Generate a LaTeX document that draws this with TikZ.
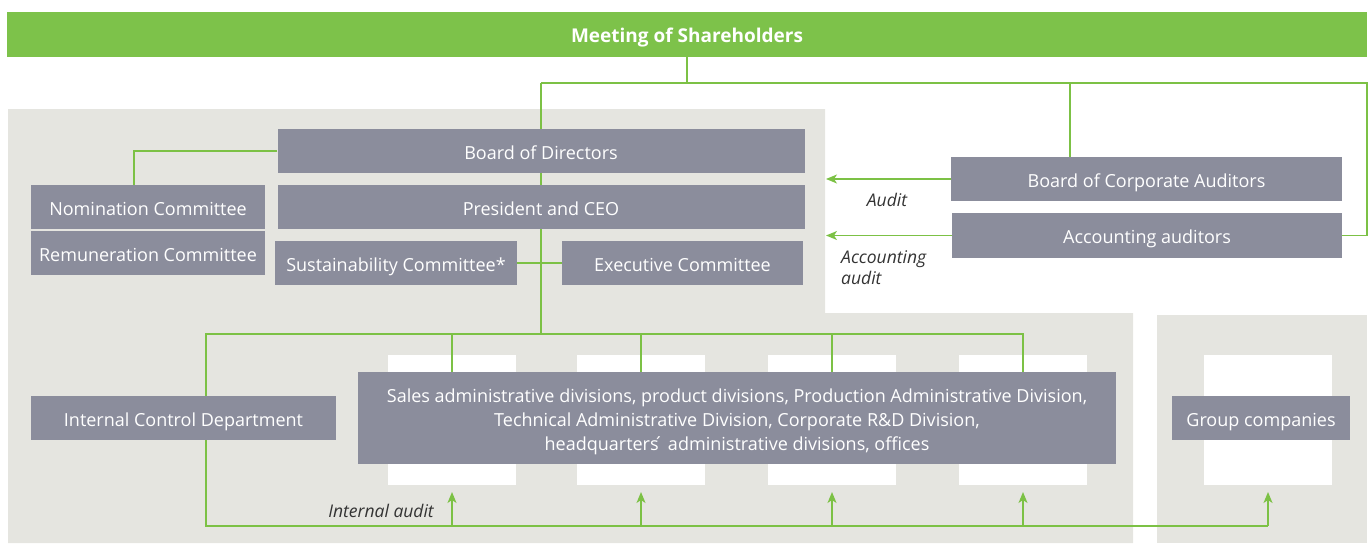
\documentclass[tikz,border=0pt]{standalone}
\usepackage{fontspec}
\setmainfont{Open Sans}
\usetikzlibrary{arrows.meta}
\definecolor{mgreen}{HTML}{7DC24A}
\definecolor{lgreen}{HTML}{7CC145}
\definecolor{boxgray}{HTML}{8B8D9C}
\definecolor{bggray}{HTML}{E5E5E0}
\definecolor{labgray}{HTML}{333333}
\tikzset{
  box/.style={fill=boxgray, text=white, inner sep=0pt, font=\fontsize{18}{22}\selectfont, text height=16pt, text depth=0pt},
  ln/.style={draw=lgreen, line width=1.5pt},
  arr/.style={ln, -{Stealth[length=11pt,width=9pt,inset=3pt]}},
  lab/.style={text=labgray, font=\fontsize{17.5}{21}\selectfont\itshape, inner sep=0pt},
  wbox/.style={fill=white, minimum width=128pt, minimum height=130pt, inner sep=0pt}
}
\begin{document}
\begin{tikzpicture}[x=1pt,y=-1pt]
\useasboundingbox (0,0) rectangle (1372,543);
% backgrounds
\fill[bggray] (8,109) -- (825,109) -- (825,313) -- (1133,313) -- (1133,543) -- (8,543) -- cycle;
\fill[bggray] (1157,315) rectangle (1367,543);
% white rectangles
\foreach \x/\n in {452/w1,641/w2,832/w3,1023/w4,1268/w5}
  \node[wbox] (\n) at (\x,420) {};
% top bar
\node[fill=mgreen, minimum width=1360pt, minimum height=45pt, inner sep=0pt, text=white, font=\fontsize{19}{22}\selectfont\bfseries, text height=15pt, text depth=0pt] (msh) at (687,34.5) {Meeting of Shareholders};
% boxes
\node[box, minimum width=527pt, minimum height=44pt] (bod) at (541,151) {Board of Directors};
\node[box, minimum width=527pt, minimum height=44pt] (pres) at (541,207) {President and CEO};
\node[box, minimum width=234pt, minimum height=44pt] (nom) at (148,207) {Nomination Committee};
\node[box, minimum width=234pt, minimum height=44pt] (rem) at (148,253) {Remuneration Committee};
\node[box, minimum width=242pt, minimum height=44pt] (sus) at (396,263) {Sustainability Committee*};
\node[box, minimum width=241pt, minimum height=44pt] (exe) at (682.5,263) {Executive Committee};
\node[box, minimum width=391pt, minimum height=44pt] (bca) at (1146.5,179) {Board of Corporate Auditors};
\node[box, minimum width=390pt, minimum height=45pt] (acc) at (1147,235.5) {Accounting auditors};
\node[box, minimum width=305pt, minimum height=44pt] (icd) at (183.5,418) {Internal Control Department};
\node[fill=boxgray, inner sep=0pt, minimum width=758pt, minimum height=92pt] (div) at (737,418) {};
\node[text=white, inner sep=0pt, align=center, font=\fontsize{18}{24}\selectfont] (divtext) at ([yshift=-3.5pt]div.center) {Sales administrative divisions, product divisions, Production Administrative Division,\\Technical Administrative Division, Corporate R\&D Division,\\headquarters\'{} administrative divisions, offices};
\node[box, minimum width=178pt, minimum height=44pt] (grp) at (1261,418) {Group companies};
% coordinates
\coordinate (tl) at (541,83);
\coordinate (tm) at (687,83);
\coordinate (tb) at (1070,83);
\coordinate (tr) at (1367,83);
\coordinate (hub) at (541,334);
\coordinate (hl) at (206,334);
\coordinate (hr) at (1023,334);
\coordinate (bl) at (206,526);
\coordinate (br) at (1268,526);
\coordinate (nomj) at (134,151);
\coordinate (auda) at (826,179);
\coordinate (acca) at (826,235.5);
% connectors
\draw[ln] (msh.south) -- (tm);
\draw[ln] (tl) -- (tr) |- (acc.east);
\draw[ln] (tb) -- (bca.north -| tb);
\draw[ln] (tl) -- (bod.north);
\draw[ln] (bod.south) -- (pres.north);
\draw[ln] (pres.south) -- (hub);
\draw[ln] (bod.west) -- (nomj) -- (nom.north -| nomj);
\draw[ln] (sus.east) -- (exe.west);
\draw[ln] (icd.north -| hl) -- (hl) -- (hr) -- (div.north -| hr);
\foreach \x in {452,641,832} \draw[ln] (hub -| \x,0) -- (div.north -| \x,0);
\draw[ln] (icd.south -| bl) -- (bl) -- (br);
\foreach \x in {452,641,832,1023} \draw[arr] (\x,526) -- (\x,492);
\draw[arr] (br) -- (1268,492);
\draw[arr] (bca.west) -- (auda);
\draw[arr] (acc.west) -- (acca);
% labels
\node[lab, anchor=center] (la) at (887,200) {Audit};
\node[lab, anchor=north west, align=left] (lb) at (841,250) {Accounting\\audit};
\node[lab, anchor=east] (lc) at (434,511) {Internal audit};
\end{tikzpicture}
\end{document}
